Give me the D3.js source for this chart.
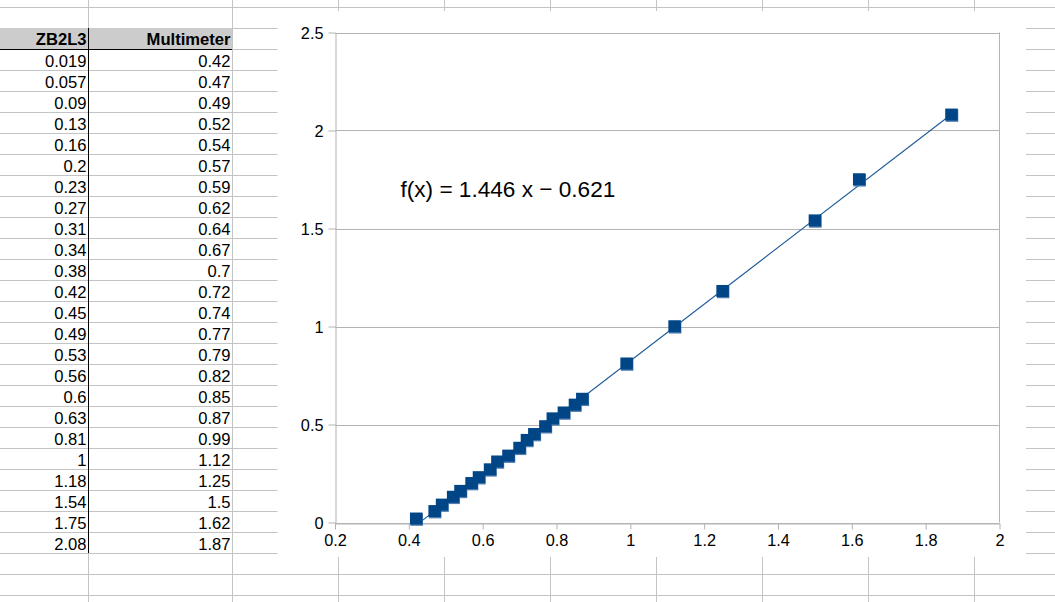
<!DOCTYPE html>
<html>
<head>
<meta charset="utf-8">
<script src="https://cdn.jsdelivr.net/npm/d3@7"></script>
<style>
  html, body { margin: 0; padding: 0; background: #fff; }
  svg { display: block; font-family: "Liberation Sans", Arial, sans-serif; }
</style>
</head>
<body>
<svg id="chart" width="1055" height="602"></svg>
<script>
// ---- data ----
const headers = ["ZB2L3", "Multimeter"];
const zb2l3 = [0.019, 0.057, 0.09, 0.13, 0.16, 0.2, 0.23, 0.27, 0.31, 0.34, 0.38, 0.42, 0.45, 0.49, 0.53, 0.56, 0.6, 0.63, 0.81, 1, 1.18, 1.54, 1.75, 2.08];
const multimeter = [0.42, 0.47, 0.49, 0.52, 0.54, 0.57, 0.59, 0.62, 0.64, 0.67, 0.7, 0.72, 0.74, 0.77, 0.79, 0.82, 0.85, 0.87, 0.99, 1.12, 1.25, 1.5, 1.62, 1.87];
const xTicks = [0.2, 0.4, 0.6, 0.8, 1, 1.2, 1.4, 1.6, 1.8, 2];
const xTickLabels = ["0.2", "0.4", "0.6", "0.8", "1", "1.2", "1.4", "1.6", "1.8", "2"];
const yTicks = [0, 0.5, 1, 1.5, 2, 2.5];
const yTickLabels = ["0", "0.5", "1", "1.5", "2", "2.5"];
const trendSlope = 1.446;
const trendIntercept = -0.621;
const trendLabel = "f(x) = 1.446 x \u2212 0.621";

// ---- spreadsheet grid ----
const svg = d3.select("#chart");
const W = 1055, H = 602;
const rowH = 21, rowTop = 7;
const colEdges = [88, 232, 338, 444, 550, 656, 762, 868, 974];
const gridColor = "#c4c4c4";

const g0 = svg.append("g");
const rowLines = d3.range(0, 29).map(i => rowTop + i * rowH);
g0.selectAll("line.h").data(rowLines).join("line")
  .attr("x1", 0).attr("x2", W)
  .attr("y1", d => d + 0.5).attr("y2", d => d + 0.5)
  .attr("stroke", gridColor).attr("stroke-width", 1);
g0.selectAll("line.v").data(colEdges).join("line")
  .attr("x1", d => d + 0.5).attr("x2", d => d + 0.5)
  .attr("y1", 0).attr("y2", H)
  .attr("stroke", gridColor).attr("stroke-width", 1);

// header row
g0.append("rect").attr("x", 0).attr("y", 28).attr("width", 232).attr("height", 21).attr("fill", "#cccccc");
const colRight = [86.5, 230.5];
g0.selectAll("text.hdr").data(headers).join("text")
  .attr("x", (d, i) => colRight[i]).attr("y", 28 + 17)
  .attr("text-anchor", "end").attr("font-size", 16.6).attr("font-weight", "bold").attr("fill", "#000")
  .text(d => d);

// data rows
const rows = zb2l3.map((v, i) => [v, multimeter[i]]);
const rowG = g0.selectAll("g.row").data(rows).join("g")
  .attr("transform", (d, i) => `translate(0,${49 + i * rowH})`);
rowG.selectAll("text").data(d => d).join("text")
  .attr("x", (d, i) => colRight[i]).attr("y", 18)
  .attr("text-anchor", "end").attr("font-size", 16.6).attr("fill", "#000")
  .text(d => String(d));

// black borders
g0.append("line").attr("x1", 0).attr("x2", 232).attr("y1", 49.5).attr("y2", 49.5).attr("stroke", "#000");
g0.append("line").attr("x1", 88.5).attr("x2", 88.5).attr("y1", 28).attr("y2", 49 + rows.length * rowH).attr("stroke", "#000");

// ---- chart object ----
const chartBox = { x: 277.5, y: 11, w: 748.5, h: 546 };
svg.append("rect").attr("x", chartBox.x).attr("y", chartBox.y)
  .attr("width", chartBox.w).attr("height", chartBox.h).attr("fill", "#fff");

const plot = { left: 335, right: 999.5, top: 32.5, bottom: 522.5 };
const x = d3.scaleLinear().domain([0.2, 2]).range([plot.left, plot.right]);
const y = d3.scaleLinear().domain([0, 2.5]).range([plot.bottom, plot.top]);
const axisColor = "#b3b3b3";

const gc = svg.append("g");
// horizontal gridlines
gc.selectAll("line.grid").data(yTicks).join("line")
  .attr("x1", plot.left).attr("x2", plot.right)
  .attr("y1", d => Math.round(y(d)) + 0.5).attr("y2", d => Math.round(y(d)) + 0.5)
  .attr("stroke", axisColor).attr("stroke-width", 1);
// right border
gc.append("line").attr("x1", plot.right).attr("x2", plot.right)
  .attr("y1", plot.top).attr("y2", plot.bottom).attr("stroke", axisColor);

// axes
const xAxis = d3.axisBottom(x).tickValues(xTicks).tickSize(6).tickSizeOuter(0)
  .tickFormat((d, i) => xTickLabels[i]);
const yAxis = d3.axisLeft(y).tickValues(yTicks).tickSize(7).tickSizeOuter(0)
  .tickFormat((d, i) => yTickLabels[i]);

const gx = gc.append("g").attr("transform", `translate(0,${Math.round(plot.bottom) + 0.5})`).call(xAxis);
const gy = gc.append("g").attr("transform", `translate(${plot.left + 0.5},0)`).call(yAxis);
[gx, gy].forEach(a => {
  a.select(".domain").attr("stroke", axisColor).attr("stroke-width", 1);
  a.selectAll(".tick line").attr("stroke", axisColor);
  a.selectAll(".tick text").attr("fill", "#000").attr("font-size", 16.3)
    .attr("font-family", "Liberation Sans, Arial, sans-serif");
});
gx.selectAll(".tick text").attr("y", 11).attr("dy", "0.71em");
gy.selectAll(".tick text").attr("x", -12).attr("dy", "0.35em");

// trend line
const xMin = d3.min(multimeter), xMax = d3.max(multimeter);
gc.append("line")
  .attr("x1", x(xMin)).attr("y1", y(trendSlope * xMin + trendIntercept))
  .attr("x2", x(xMax)).attr("y2", y(trendSlope * xMax + trendIntercept))
  .attr("stroke", "#1e5a96").attr("stroke-width", 1.1);

// markers
const ms = 12.5;
const pts = multimeter.map((m, i) => ({ x: m, y: zb2l3[i] }));
gc.selectAll("rect.shadow").data(pts).join("rect")
  .attr("x", d => x(d.x) - ms / 2 + 0.5).attr("y", d => y(d.y) - ms / 2 + 0.8)
  .attr("width", ms).attr("height", ms).attr("fill", "#4f7fb0");
gc.selectAll("rect.mk").data(pts).join("rect")
  .attr("x", d => x(d.x) - ms / 2).attr("y", d => y(d.y) - ms / 2)
  .attr("width", ms).attr("height", ms - 0.5).attr("fill", "#004586");

// equation label
gc.append("text").attr("x", 400.5).attr("y", 196.5)
  .attr("font-size", 22.6).attr("fill", "#000")
  .text(trendLabel);
</script>
</body>
</html>
